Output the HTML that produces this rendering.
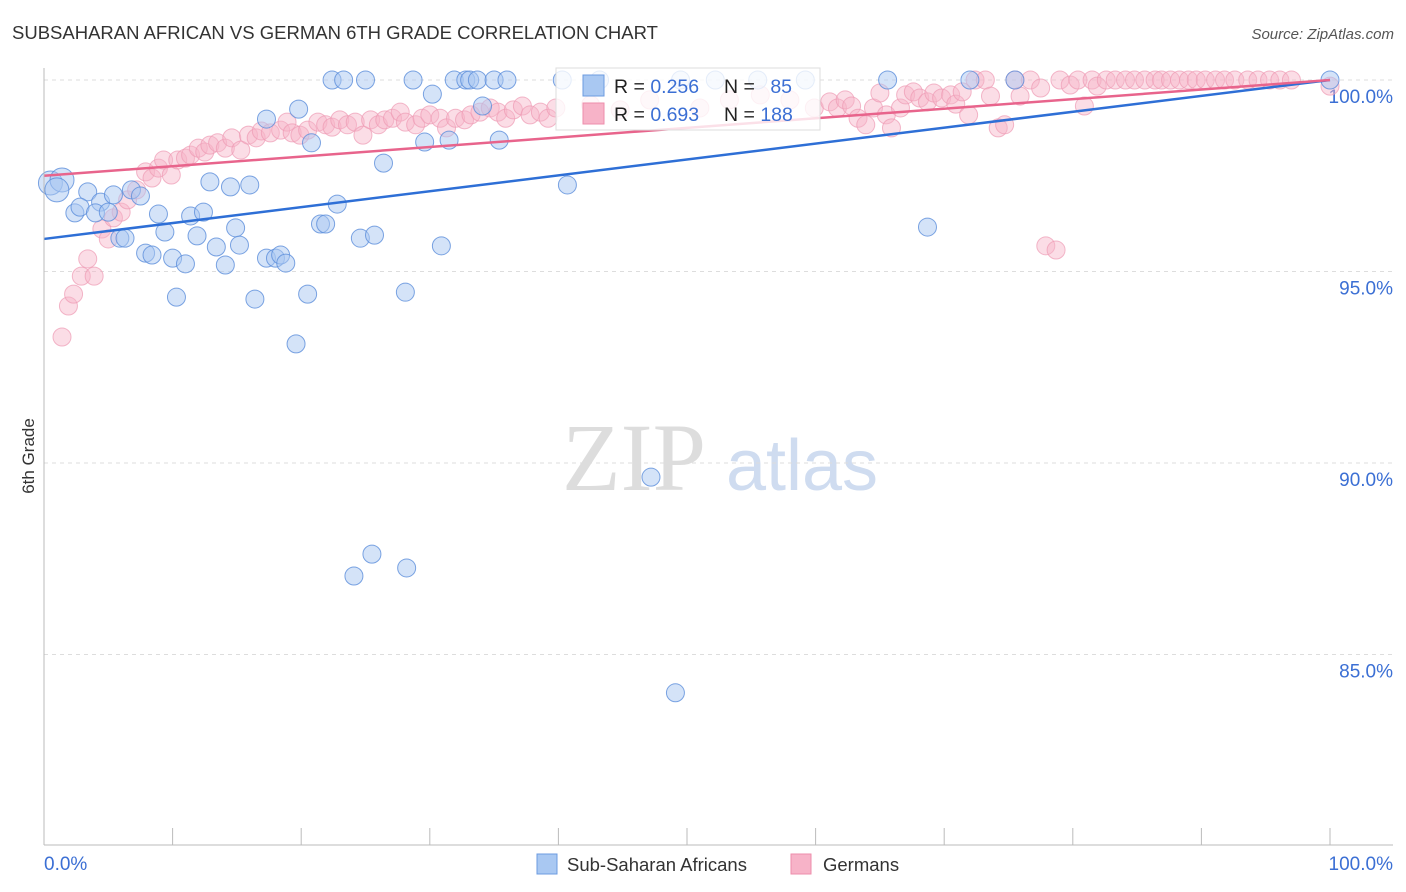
<!DOCTYPE html>
<html><head><meta charset="utf-8"><style>
body{margin:0;background:#fff;font-family:"Liberation Sans",sans-serif}
</style></head><body>
<svg id="c" width="1406" height="892" xmlns="http://www.w3.org/2000/svg" style="display:block">
<text x="12" y="39" font-size="18.5" fill="#333">SUBSAHARAN AFRICAN VS GERMAN 6TH GRADE CORRELATION CHART</text>
<text x="1394" y="39" font-size="15" fill="#555" font-style="italic" text-anchor="end">Source: ZipAtlas.com</text>
<text transform="translate(34,456) rotate(-90)" font-size="17" fill="#333" text-anchor="middle">6th Grade</text>
<g><text x="634" y="490" font-size="96" fill="#ddd" font-family="Liberation Serif" text-anchor="middle">ZIP</text><text x="802" y="490" font-size="72" fill="#cfdcf0" text-anchor="middle">atlas</text></g>
<g id="grid"></g><g id="pts"></g><g id="lines"></g>
<line x1="44" y1="68" x2="44" y2="845" stroke="#bbb"/>
<line x1="44" y1="845" x2="1393" y2="845" stroke="#bbb"/>
<text x="44" y="870" font-size="19" fill="#3b6fd4">0.0%</text>
<text x="1393" y="870" font-size="19" fill="#3b6fd4" text-anchor="end">100.0%</text>
<g>
<rect x="556" y="68" width="264" height="62" fill="#fff" fill-opacity="0.8" stroke="#ddd"/>
<rect x="583" y="75" width="21" height="21" fill="#a9c8f2" stroke="#6c9be0"/>
<rect x="583" y="103" width="21" height="21" fill="#f7b3c8" stroke="#ee8eab"/>
<text x="614" y="93" font-size="19.5" fill="#222">R = <tspan fill="#3b6fd4">0.256</tspan></text>
<text x="724" y="93" font-size="19.5" fill="#222">N = <tspan fill="#3b6fd4" dx="10">85</tspan></text>
<text x="614" y="121" font-size="19.5" fill="#222">R = <tspan fill="#3b6fd4">0.693</tspan></text>
<text x="724" y="121" font-size="19.5" fill="#222">N = <tspan fill="#3b6fd4">188</tspan></text>
</g>
<g><rect x="537" y="854" width="20" height="20" fill="#a9c8f2" stroke="#6c9be0"/><text x="567" y="871" font-size="18.5" fill="#333">Sub-Saharan Africans</text></g>
<g><rect x="791" y="854" width="20" height="20" fill="#f7b3c8" stroke="#ee8eab"/><text x="823" y="871" font-size="18.5" fill="#333">Germans</text></g>
</svg>
<script>
const yTicks=[100,95,90,85];
const yTickLabels=["100.0%","95.0%","90.0%","85.0%"];
const xTicks=[0,10,20,30,40,50,60,70,80,90,100];
const blueX=[0.5,1.4,1.0,3.4,2.4,2.8,4.4,4.0,5.0,5.4,6.8,7.5,5.9,6.3,7.9,8.4,8.9,9.4,10.0,11.0,10.3,11.4,11.9,12.4,12.9,13.4,14.1,14.5,14.9,15.2,16.0,16.4,17.3,17.3,18.0,18.4,18.8,19.8,20.5,20.8,19.6,21.5,21.9,22.8,22.4,23.3,24.6,25.0,25.7,26.4,28.1,28.7,29.6,30.2,30.9,31.5,31.9,32.8,33.1,33.7,34.1,35.0,35.4,36.0,40.3,40.7,47.2,49.1,24.1,25.5,28.2,65.6,68.7,72.0,75.5,100,43.2,49.5,52.2,55.5,59.2];
const blueY=[97.31,97.39,97.13,97.08,96.53,96.68,96.81,96.53,96.55,97.0,97.13,96.97,95.87,95.87,95.48,95.43,96.5,96.03,95.35,95.2,94.33,96.45,95.93,96.55,97.34,95.64,95.17,97.21,96.14,95.69,97.26,94.28,98.98,95.35,95.35,95.43,95.22,99.24,94.41,98.36,93.11,96.24,96.24,96.76,100,100,95.87,100,95.95,97.83,94.46,100,98.38,99.63,95.67,98.43,100,100,100,100,99.32,100,98.43,100,100,97.26,89.63,84.0,87.05,87.62,87.26,100,96.16,100,100,100,100,100,100,100,100];
const pinkX=[1.4,1.9,2.3,2.9,3.9,3.4,4.5,5.0,5.4,6.0,6.5,7.2,7.9,8.4,8.9,9.3,9.9,10.4,11.0,11.4,12.0,12.5,12.9,13.5,14.1,14.6,15.3,15.9,16.5,16.9,17.6,18.4,18.9,19.3,19.9,20.5,21.3,21.9,22.4,23.0,23.6,24.2,24.8,25.4,26.0,26.5,27.1,27.7,28.1,28.9,29.4,30.0,30.8,31.3,32.0,32.7,33.2,33.9,34.7,35.3,35.9,36.5,37.2,37.8,38.6,39.2,39.8,42.5,44.8,47.1,51.0,53.3,55.7,58.0,59.9,61.1,61.7,62.3,62.8,63.3,63.9,64.5,65.0,65.5,65.9,66.6,67.0,67.6,68.1,68.7,69.2,69.8,70.5,70.9,71.4,71.9,72.4,73.2,73.6,74.2,74.7,75.5,75.9,76.7,77.5,77.9,78.7,79.0,79.8,80.4,80.9,81.5,81.9,82.6,83.3,84.1,84.8,85.6,86.4,86.9,87.6,88.3,89.0,89.6,90.3,91.1,91.8,92.6,93.6,94.4,95.3,96.1,97.0,100];
const pinkY=[93.29,94.1,94.41,94.88,94.88,95.33,96.11,95.85,96.4,96.55,96.87,97.13,97.6,97.44,97.7,97.91,97.52,97.91,97.96,98.04,98.22,98.12,98.3,98.36,98.22,98.49,98.17,98.56,98.49,98.67,98.62,98.69,98.9,98.62,98.56,98.69,98.9,98.83,98.77,98.96,98.83,98.9,98.56,98.96,98.83,98.96,99.0,99.16,98.9,98.83,99.0,99.09,99.0,98.75,99.0,98.96,99.09,99.16,99.27,99.16,99.0,99.22,99.32,99.09,99.16,99.0,99.27,99.35,99.22,99.48,99.27,99.48,99.61,99.48,99.27,99.43,99.27,99.48,99.32,99.0,98.83,99.27,99.66,99.09,98.75,99.27,99.61,99.69,99.53,99.43,99.66,99.53,99.61,99.37,99.69,99.09,100,100,99.58,98.75,98.83,100,99.58,100,99.79,95.67,95.56,100,99.87,100,99.32,100,99.84,100,100,100,100,100,100,100,100,100,100,100,100,100,100,100,100,100,100,100,100,99.84];
const blueTrend=[95.85,100];
const pinkTrend=[97.5,100];
const X=v=>44+v*12.86, Y=v=>80+(100-v)*38.3;
const NS="http://www.w3.org/2000/svg";
function mk(p,t,a){const e=document.createElementNS(NS,t);for(const k in a)e.setAttribute(k,a[k]);p.appendChild(e);return e;}
const grid=document.getElementById('grid');
yTicks.forEach((t,i)=>{
 const l=mk(grid,'line',{x1:44,x2:1393,y1:Y(t),y2:Y(t),stroke:'#ddd','stroke-dasharray':'4,4'});
 
 
 const tx=mk(grid,'text',{x:1393,y:Y(t)+23,'font-size':19,fill:'#3b6fd4','text-anchor':'end'});
 tx.textContent=yTickLabels[i];
 
 
});
xTicks.forEach(t=>{
 const l=mk(grid,'line',{x1:X(t),x2:X(t),y1:828,y2:845,stroke:'#bbb'});
 
 
});
const pts=document.getElementById('pts');
pinkX.forEach((x,i)=>{
 const c=mk(pts,'circle',{cx:X(x),cy:Y(pinkY[i]),r:9,fill:'#f7b3c8','fill-opacity':0.45,stroke:'#ee9ab4','stroke-opacity':0.7});
 
 
});
blueX.forEach((x,i)=>{
 const c=mk(pts,'circle',{cx:X(x),cy:Y(blueY[i]),r:i<3?12:9,fill:'#a9c8f2','fill-opacity':0.5,stroke:'#5b8ddb','stroke-opacity':0.8});
 
 
});
const lines=document.getElementById('lines');
const bl=mk(lines,'line',{x1:X(0),y1:Y(blueTrend[0]),x2:X(100),y2:Y(blueTrend[1]),stroke:'#2e6fd6','stroke-width':2.5});


const pl=mk(lines,'line',{x1:X(0),y1:Y(pinkTrend[0]),x2:X(100),y2:Y(pinkTrend[1]),stroke:'#e8648c','stroke-width':2.5});


</script>
</body></html>
